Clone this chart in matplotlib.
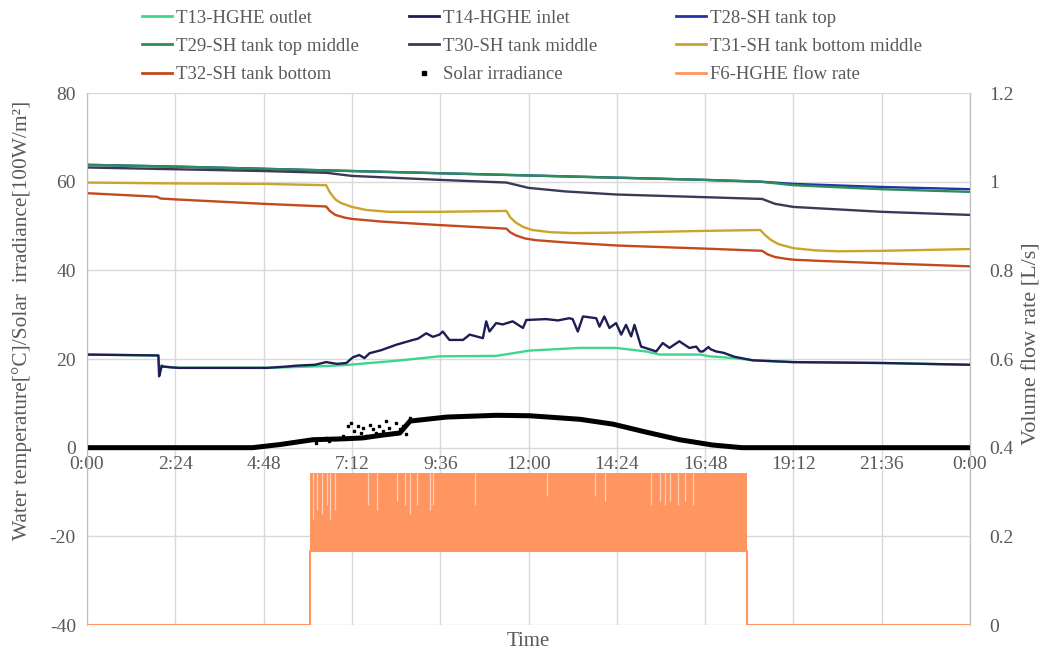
import matplotlib
matplotlib.use("Agg")
import matplotlib.pyplot as plt
from matplotlib.lines import Line2D

plt.rcParams['font.family'] = ['Liberation Serif', 'DejaVu Serif']
plt.rcParams['axes.unicode_minus'] = False

# ---------------- data (hours of day) ----------------
t_top = [0, 2.4, 4.8, 7.2, 9.6, 12, 14.4, 16.8, 18.3, 19.2, 21.6, 24]
T28 = [63.8, 63.4, 62.9, 62.4, 61.9, 61.4, 60.9, 60.4, 60.0, 59.5, 58.8, 58.3]
T29 = [63.8, 63.4, 62.9, 62.4, 61.9, 61.4, 60.9, 60.4, 60.0, 59.2, 58.3, 57.7]

t30 = [0, 2.4, 4.8, 6.5, 7.2, 9.6, 11.4, 11.7, 12.0, 13.0,
       14.4, 16.8, 18.35, 18.7, 19.2, 21.6, 24]
T30 = [63.2, 62.8, 62.4, 62.0, 61.3, 60.4, 59.8, 59.2, 58.6, 57.8,
       57.1, 56.5, 56.1, 55.0, 54.3, 53.2, 52.5]

t31 = [0, 2.4, 4.8, 6.5, 6.6, 6.75, 6.9, 7.2, 7.6, 8.2,
       9.6, 11.4, 11.5, 11.65, 11.85, 12.1, 12.6, 13.2, 14.4, 16.8,
       18.3, 18.45, 18.6, 18.8, 19.2, 19.8, 20.4, 21.6, 24]
T31 = [59.8, 59.6, 59.5, 59.2, 57.6, 56.0, 55.2, 54.3, 53.6, 53.2,
       53.2, 53.4, 52.0, 50.8, 49.8, 49.1, 48.6, 48.4, 48.5, 48.9,
       49.1, 47.8, 46.8, 45.9, 45.0, 44.5, 44.3, 44.4, 44.8]

t32 = [0, 1.9, 2.0, 2.4, 4.8, 6.5, 6.6, 6.75, 7.0, 7.2,
       8.0, 9.6, 11.4, 11.5, 11.65, 11.9, 12.2, 13.0, 14.4, 16.8,
       18.35, 18.5, 18.7, 19.0, 19.2, 20.0, 21.6, 24]
T32 = [57.4, 56.6, 56.2, 56.0, 55.0, 54.4, 53.4, 52.5, 51.9, 51.6,
       51.0, 50.2, 49.4, 48.6, 47.9, 47.2, 46.8, 46.3, 45.6, 44.9,
       44.4, 43.6, 43.0, 42.6, 42.4, 42.1, 41.6, 40.9]

t14 = [0, 1.94, 1.96, 1.99, 2.03, 2.07, 2.3, 2.5, 3.5, 4.9,
       5.43, 5.69, 6.2, 6.5, 6.8, 7.05, 7.23, 7.4, 7.54, 7.68,
       8.0, 8.4, 8.86, 9.0, 9.22, 9.4, 9.58, 9.67, 9.85, 10.22,
       10.40, 10.76, 10.85, 10.94, 11.12, 11.3, 11.57, 11.85, 11.94, 12.48,
       12.8, 13.11, 13.2, 13.34, 13.48, 13.84, 13.93, 14.06, 14.2, 14.38,
       14.52, 14.65, 14.79, 14.88, 15.06, 15.29, 15.47, 15.65, 15.83, 16.1,
       16.37, 16.56, 16.66, 16.74, 16.89, 16.95, 17.1, 17.3, 17.6, 18.1,
       19.2, 21.6, 24]
T14 = [21.0, 20.8, 16.1, 17.0, 18.5, 18.3, 18.1, 18.0, 18.0, 18.0,
       18.3, 18.5, 18.7, 19.3, 18.9, 19.1, 20.4, 20.9, 20.2, 21.3,
       22.0, 23.2, 24.3, 24.6, 25.8, 25.0, 25.5, 26.2, 24.3, 24.3,
       25.5, 24.7, 28.5, 26.2, 28.1, 27.8, 28.5, 27.0, 28.8, 29.0,
       28.7, 29.2, 29.0, 26.2, 29.6, 29.2, 27.3, 29.6, 27.0, 28.1,
       25.5, 27.7, 25.1, 27.7, 22.8, 22.2, 21.7, 23.6, 22.5, 24.0,
       22.5, 22.8, 21.7, 21.7, 22.7, 22.2, 21.7, 21.4, 20.5, 19.7,
       19.3, 19.1, 18.7]

t13 = [0, 1.94, 1.96, 2.07, 2.5, 4.9, 5.69, 6.5, 7.13, 8.4,
       9.58, 11.12, 12.03, 13.39, 14.38, 15.2, 15.56, 16.66, 16.92, 17.6,
       18.1, 19.2, 21.6, 24]
T13 = [21.0, 20.8, 18.3, 18.3, 18.0, 18.0, 18.2, 18.4, 18.7, 19.6,
       20.6, 20.7, 21.9, 22.5, 22.5, 21.7, 21.0, 21.0, 20.6, 20.2,
       19.7, 19.3, 19.1, 18.7]

# solar irradiance [100 W/m2]: smooth part and scattered readings
t_sol = [0, 4.5, 5.24, 6.15, 7.0, 7.5, 8.0, 8.5, 8.78, 9.77,
         11.13, 12.03, 13.4, 14.3, 15.2, 16.1, 17.0, 17.8, 24]
SOL = [0, 0, 0.7, 1.8, 2.0, 2.2, 2.8, 3.3, 6.0, 6.9,
       7.3, 7.2, 6.4, 5.3, 3.5, 1.8, 0.6, 0, 0]
t_sol_pts = [6.23, 6.32, 6.50, 6.59, 6.77, 6.96, 7.09, 7.18, 7.27, 7.36,
             7.45, 7.50, 7.59, 7.68, 7.77, 7.86, 7.95, 8.04, 8.13, 8.22,
             8.31, 8.40, 8.50, 8.59, 8.68, 8.77]
SOL_pts = [1.1, 1.9, 2.2, 1.5, 2.0, 2.6, 4.9, 5.5, 3.7, 4.9,
           3.4, 4.5, 2.6, 5.2, 4.1, 3.2, 4.9, 3.7, 6.0, 4.5,
           3.4, 5.6, 4.1, 5.0, 3.0, 6.7]

# flow rate F6 [L/s]: baseline, pulsing band (low/high), and partial pulses
t_flow = [0, 6.06, 6.06, 17.93, 17.93, 24]
F6 = [0, 0, 0.166, 0.166, 0, 0]
t_band = [6.06, 17.93]
F6_low = [0.166, 0.166]
F6_high = [0.343, 0.343]
t_dips = [6.15, 6.24, 6.38, 6.51, 6.60, 6.74, 7.64, 7.87, 8.42, 8.64,
          8.78, 8.96, 9.32, 9.41, 10.54, 12.49, 13.80, 14.08, 15.34, 15.57,
          15.71, 15.84, 16.07, 16.25, 16.48]
F6_dip = [0.24, 0.26, 0.25, 0.27, 0.24, 0.26, 0.27, 0.26, 0.28, 0.27,
          0.25, 0.27, 0.26, 0.27, 0.27, 0.29, 0.29, 0.28, 0.27, 0.28,
          0.27, 0.28, 0.27, 0.28, 0.27]

xticks = [0, 2.4, 4.8, 7.2, 9.6, 12, 14.4, 16.8, 19.2, 21.6, 24]
xlabels = ['0:00', '2:24', '4:48', '7:12', '9:36', '12:00', '14:24',
           '16:48', '19:12', '21:36', '0:00']
yticks = [-40, -20, 0, 20, 40, 60, 80]
y2ticks = [0, 0.2, 0.4, 0.6, 0.8, 1.0, 1.2]
y2labels = ['0', '0.2', '0.4', '0.6', '0.8', '1', '1.2']

# ---------------- styles ----------------
C13 = '#3DD68C'
C14 = '#1E1E55'
C28 = '#2232A8'
C29 = '#2E8B5A'
C30 = '#3A3A58'
C31 = '#CBA42A'
C32 = '#C4491E'
CF6 = '#FF9561'
GRID = '#D9D9D9'
TXT = '#595959'

fig = plt.figure(figsize=(10.44, 6.52), dpi=100)
ax = fig.add_axes([87/1044, 27/652, 883/1044, 532/652])
ax2 = ax.twinx()

lw = 1.7
ax.plot(t13, T13, color=C13, lw=lw, label='T13-HGHE outlet', zorder=3)
ax.plot(t14, T14, color=C14, lw=lw, label='T14-HGHE inlet', zorder=3)
ax.plot(t_top, T28, color=C28, lw=lw, label='T28-SH tank top', zorder=3)
ax.plot(t_top, T29, color=C29, lw=lw, label='T29-SH tank top middle', zorder=3)
ax.plot(t30, T30, color=C30, lw=lw, label='T30-SH tank middle', zorder=3)
ax.plot(t31, T31, color=C31, lw=lw, label='T31-SH tank bottom middle', zorder=3)
ax.plot(t32, T32, color=C32, lw=lw, label='T32-SH tank bottom', zorder=3)
ax.plot(t_sol, SOL, color='black', lw=3.6, solid_capstyle='butt', zorder=3)
ax.plot(t_sol_pts, SOL_pts, ls='none', marker='s', ms=1.8, color='black', zorder=3)

ax2.plot(t_flow, F6, color=CF6, lw=1.5)
ax2.fill_between(t_band, F6_low, F6_high, color=CF6, lw=0)
ax2.vlines(t_dips, F6_dip, 0.343, color='white', alpha=0.55, lw=0.9)

ax.set_xlim(0, 24)
ax.set_ylim(-40, 80)
ax2.set_ylim(0, 1.2)
ax.set_xticks(xticks)
ax.set_xticklabels(xlabels)
ax.set_yticks(yticks)
ax2.set_yticks(y2ticks)
ax2.set_yticklabels(y2labels)

ax.grid(True, color=GRID, lw=1.0, zorder=0)
ax.set_axisbelow(True)
ax.spines['bottom'].set_position(('data', 0))
for a in (ax, ax2):
    a.spines['top'].set_visible(False)
    a.spines['bottom'].set_visible(False)
    a.spines['left'].set_color('#BFBFBF')
    a.spines['right'].set_color('#BFBFBF')
ax.tick_params(axis='x', length=0, pad=6, labelsize=14, labelcolor=TXT)
ax.tick_params(axis='y', length=0, pad=8, labelsize=14, labelcolor=TXT)
ax2.tick_params(axis='y', length=0, pad=14, labelsize=14, labelcolor=TXT)

fig.text(22/1044, 1 - 320/652, 'Water temperature[\u00b0C]/Solar  irradiance[100W/m\u00b2]',
         rotation=90, ha='center', va='center', fontsize=15.4, color=TXT)
fig.text(1032/1044, 1 - 344/652, 'Volume flow rate [L/s]',
         rotation=90, ha='center', va='center', fontsize=16, color=TXT)
fig.text(528/1044, 1 - 641/652, 'Time', ha='center', va='center', fontsize=15, color=TXT)

sol_h = Line2D([], [], ls='none', marker='s', ms=2.2, color='black')
def mk(c):
    return Line2D([], [], color=c, lw=2.0)
cols = [
    ([mk(C13), mk(C29), mk(C32)], ['T13-HGHE outlet', 'T29-SH tank top middle', 'T32-SH tank bottom'], 142),
    ([mk(C14), mk(C30), sol_h], ['T14-HGHE inlet', 'T30-SH tank middle', 'Solar irradiance'], 409),
    ([mk(C28), mk(C31), mk(CF6)], ['T28-SH tank top', 'T31-SH tank bottom middle', 'F6-HGHE flow rate'], 676),
]
for hs, ls, x in cols:
    fig.legend(hs, ls, loc='upper left', bbox_to_anchor=(x/1044, 1 - 9.5/652),
               frameon=False, borderpad=0, borderaxespad=0, handlelength=1.6,
               handletextpad=0.2, labelspacing=0.6, fontsize=13.5,
               labelcolor=TXT)

fig.savefig('out.png', dpi=100)
